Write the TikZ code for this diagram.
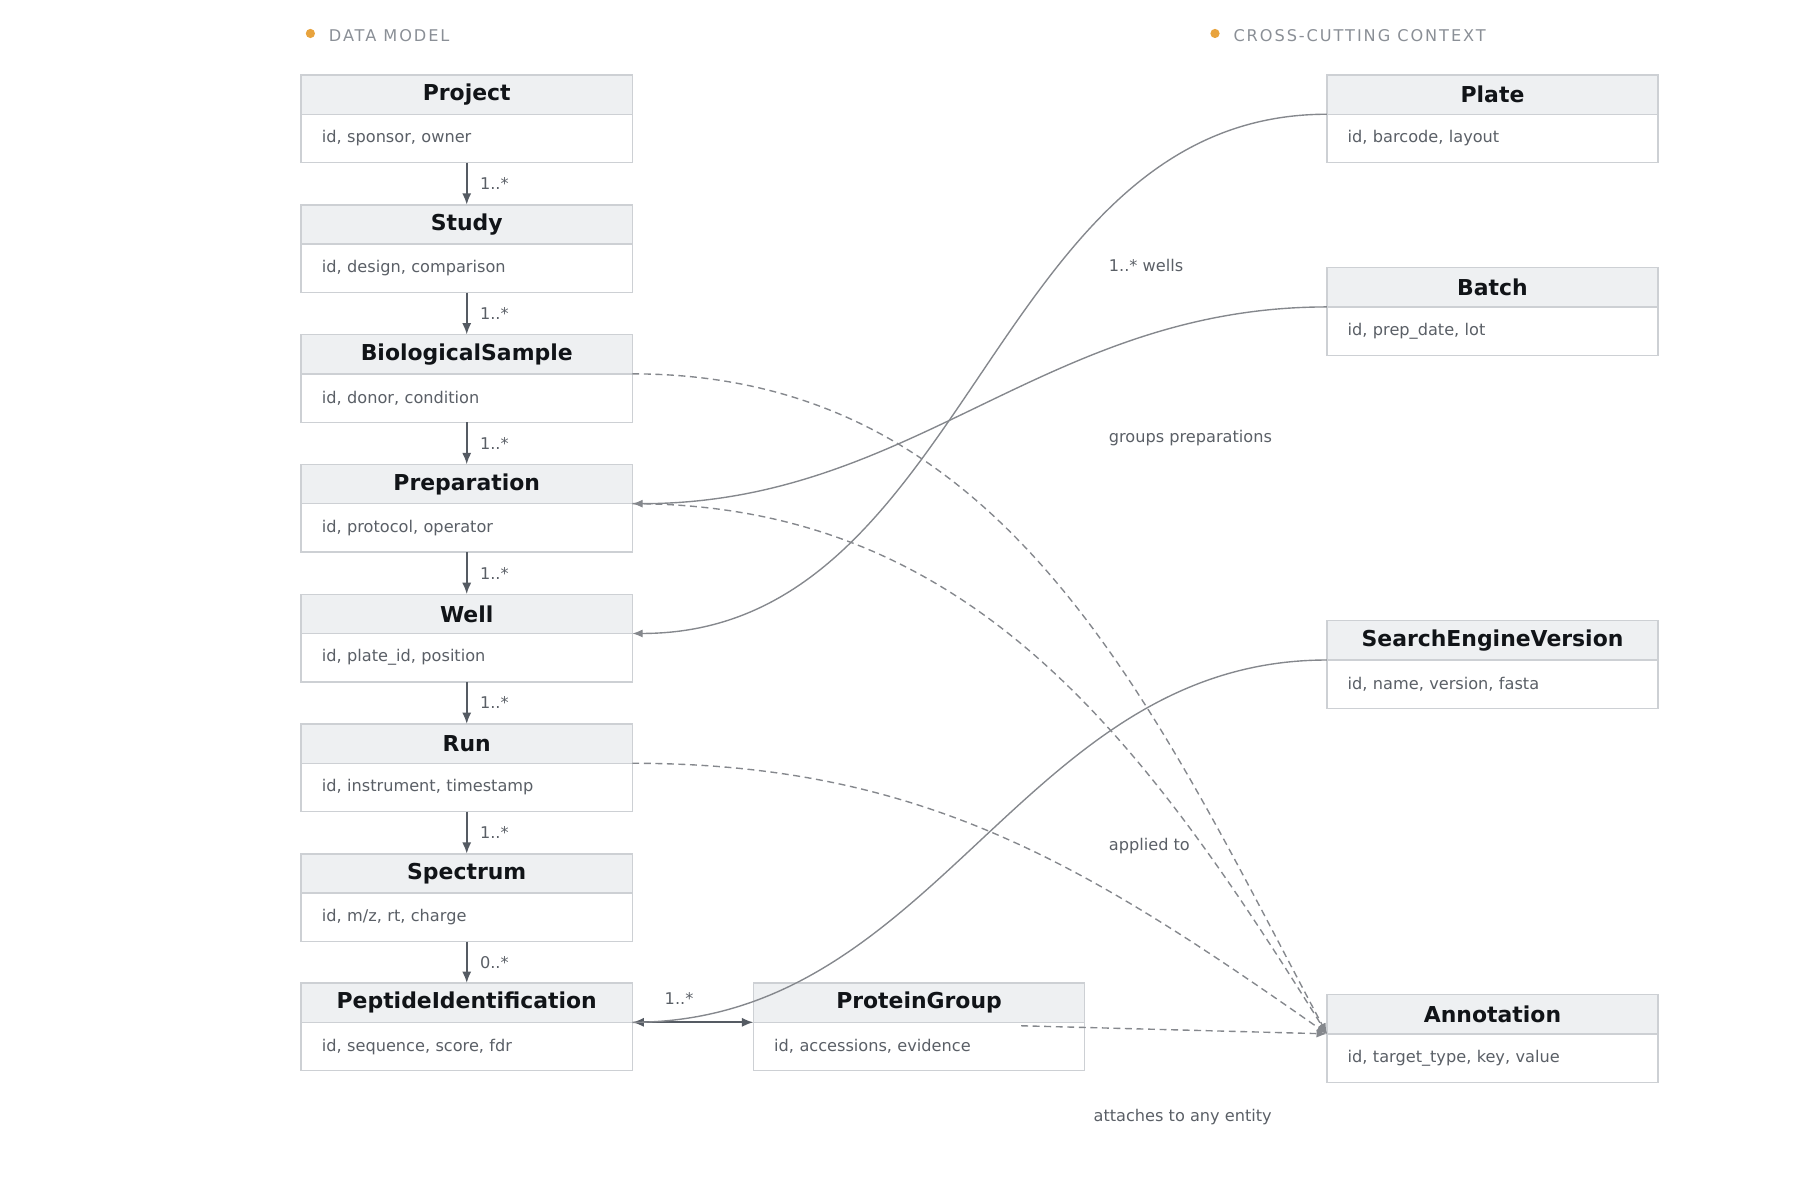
\documentclass[tikz,border=0pt]{standalone}
\usepackage{fontspec}
\setmainfont{DejaVu Sans}
\newfontfamily\spacedfont[LetterSpace=12]{DejaVu Sans}
\usetikzlibrary{positioning,arrows.meta}
\definecolor{headfill}{HTML}{EEF0F2}
\definecolor{boxline}{HTML}{CDD0D4}
\definecolor{titletext}{HTML}{111418}
\definecolor{fieldtext}{HTML}{5A5F66}
\definecolor{linkdark}{HTML}{555B63}
\definecolor{linkgray}{HTML}{85888D}
\definecolor{dotorange}{HTML}{E8A33D}
\definecolor{sectiontext}{HTML}{8A8F96}
\tikzset{
  ehead/.style={draw=boxline, line width=0.6pt, fill=headfill, minimum width=143.5pt, minimum height=17pt,
    inner sep=0pt, outer sep=0pt, font=\fontsize{9.5}{11}\selectfont\bfseries, text=titletext},
  ebody/.style={draw=boxline, line width=0.6pt, fill=white, minimum width=143.5pt, minimum height=21pt,
    inner xsep=9pt, inner ysep=0pt, outer sep=0pt, text width=125.5pt, align=left,
    font=\fontsize{7}{8.5}\selectfont, text=fieldtext},
  chain/.style={draw=linkdark, line width=0.9pt, -{Latex[length=5pt,width=4pt]}},
  mult/.style={font=\fontsize{7}{8.5}\selectfont, text=fieldtext},
  ctx/.style={draw=linkgray, line width=0.6pt, -{Latex[length=4.5pt,width=3.5pt]}},
  anno/.style={draw=linkgray, line width=0.6pt, dash pattern=on 3pt off 2pt, -{Latex[length=4.5pt,width=3.5pt]}},
  note/.style={font=\fontsize{7}{8.5}\selectfont, text=fieldtext, anchor=west},
  section/.style={font=\fontsize{7}{8.5}\spacedfont, text=sectiontext, anchor=west}
}
% one entity = title bar + field box
\newcommand{\entity}[4]{%
  \node[ehead] (#1) at (#2) {#3};
  \node[ebody, below=0pt of #1] (#1b) {#4};}
\begin{document}
\begin{tikzpicture}[x=0.5pt,y=-0.5pt]
  \useasboundingbox (0,0) rectangle (1560,1040);
  % section labels
  \fill[dotorange] (269,29) circle (4);
  \node[section] (dmlabel) at (278,31) {DATA MODEL};
  \fill[dotorange] (1053,29) circle (4);
  \node[section] (cclabel) at (1062,31) {CROSS-CUTTING CONTEXT};
  % data model
  \entity{project}{404.5,82}{Project}{id, sponsor, owner}
  \entity{study}{404.5,194.5}{Study}{id, design, comparison}
  \entity{sample}{404.5,307}{BiologicalSample}{id, donor, condition}
  \entity{prep}{404.5,419.5}{Preparation}{id, protocol, operator}
  \entity{well}{404.5,532}{Well}{id, plate\_id, position}
  \entity{run}{404.5,644.5}{Run}{id, instrument, timestamp}
  \entity{spectrum}{404.5,757}{Spectrum}{id, m/z, rt, charge}
  \entity{pepid}{404.5,869}{PeptideIdentification}{id, sequence, score, fdr}
  \entity{protgroup}{796.5,869}{ProteinGroup}{id, accessions, evidence}
  % context
  \entity{plate}{1293.5,82}{Plate}{id, barcode, layout}
  \entity{batch}{1293.5,249}{Batch}{id, prep\_date, lot}
  \entity{sev}{1293.5,555}{SearchEngineVersion}{id, name, version, fasta}
  \entity{annot}{1293.5,879}{Annotation}{id, target\_type, key, value}
  % containment chain
  \draw[chain] (projectb) -- (study) node[mult, midway, right=2pt] {1..*};
  \draw[chain] (studyb) -- (sample) node[mult, midway, right=2pt] {1..*};
  \draw[chain] (sampleb) -- (prep) node[mult, midway, right=2pt] {1..*};
  \draw[chain] (prepb) -- (well) node[mult, midway, right=2pt] {1..*};
  \draw[chain] (wellb) -- (run) node[mult, midway, right=2pt] {1..*};
  \draw[chain] (runb) -- (spectrum) node[mult, midway, right=2pt] {1..*};
  \draw[chain] (spectrumb) -- (pepid) node[mult, midway, right=2pt] {0..*};
  \coordinate (pepE) at (pepid.south east);
  \coordinate (pgW) at (protgroup.south west);
  \draw[chain, {Latex[length=5pt,width=4pt]}-{Latex[length=5pt,width=4pt]}] (pepE) -- (pgW)
    node[mult, midway, above=4pt, xshift=-6pt] {1..*};
  % context links
  \draw[ctx] (plate.south west) to[out=180, in=0] (well.south east);
  \node[note] (wellsnote) at (954,230) {1..* wells};
  \draw[ctx] (batch.south west) to[out=180, in=0] (prep.south east);
  \node[note] (groupsnote) at (954,380) {groups preparations};
  \draw[ctx, -] (sev.south west) to[out=180, in=0] (pepE);
  \node[note] (appliednote) at (954,733) {applied to};
  % annotations
  \coordinate (annotW) at (annot.south west);
  \draw[anno] (sample.south east) to[out=0, in=118] (annotW);
  \draw[anno] (prep.south east) to[out=0, in=122] (annotW);
  \draw[anno] (run.south east) to[out=0, in=145] (annotW);
  \draw[anno] (885,889) -- (annotW);
  \node[note, anchor=center] (attachnote) at (1025,968) {attaches to any entity};
\end{tikzpicture}
\end{document}
